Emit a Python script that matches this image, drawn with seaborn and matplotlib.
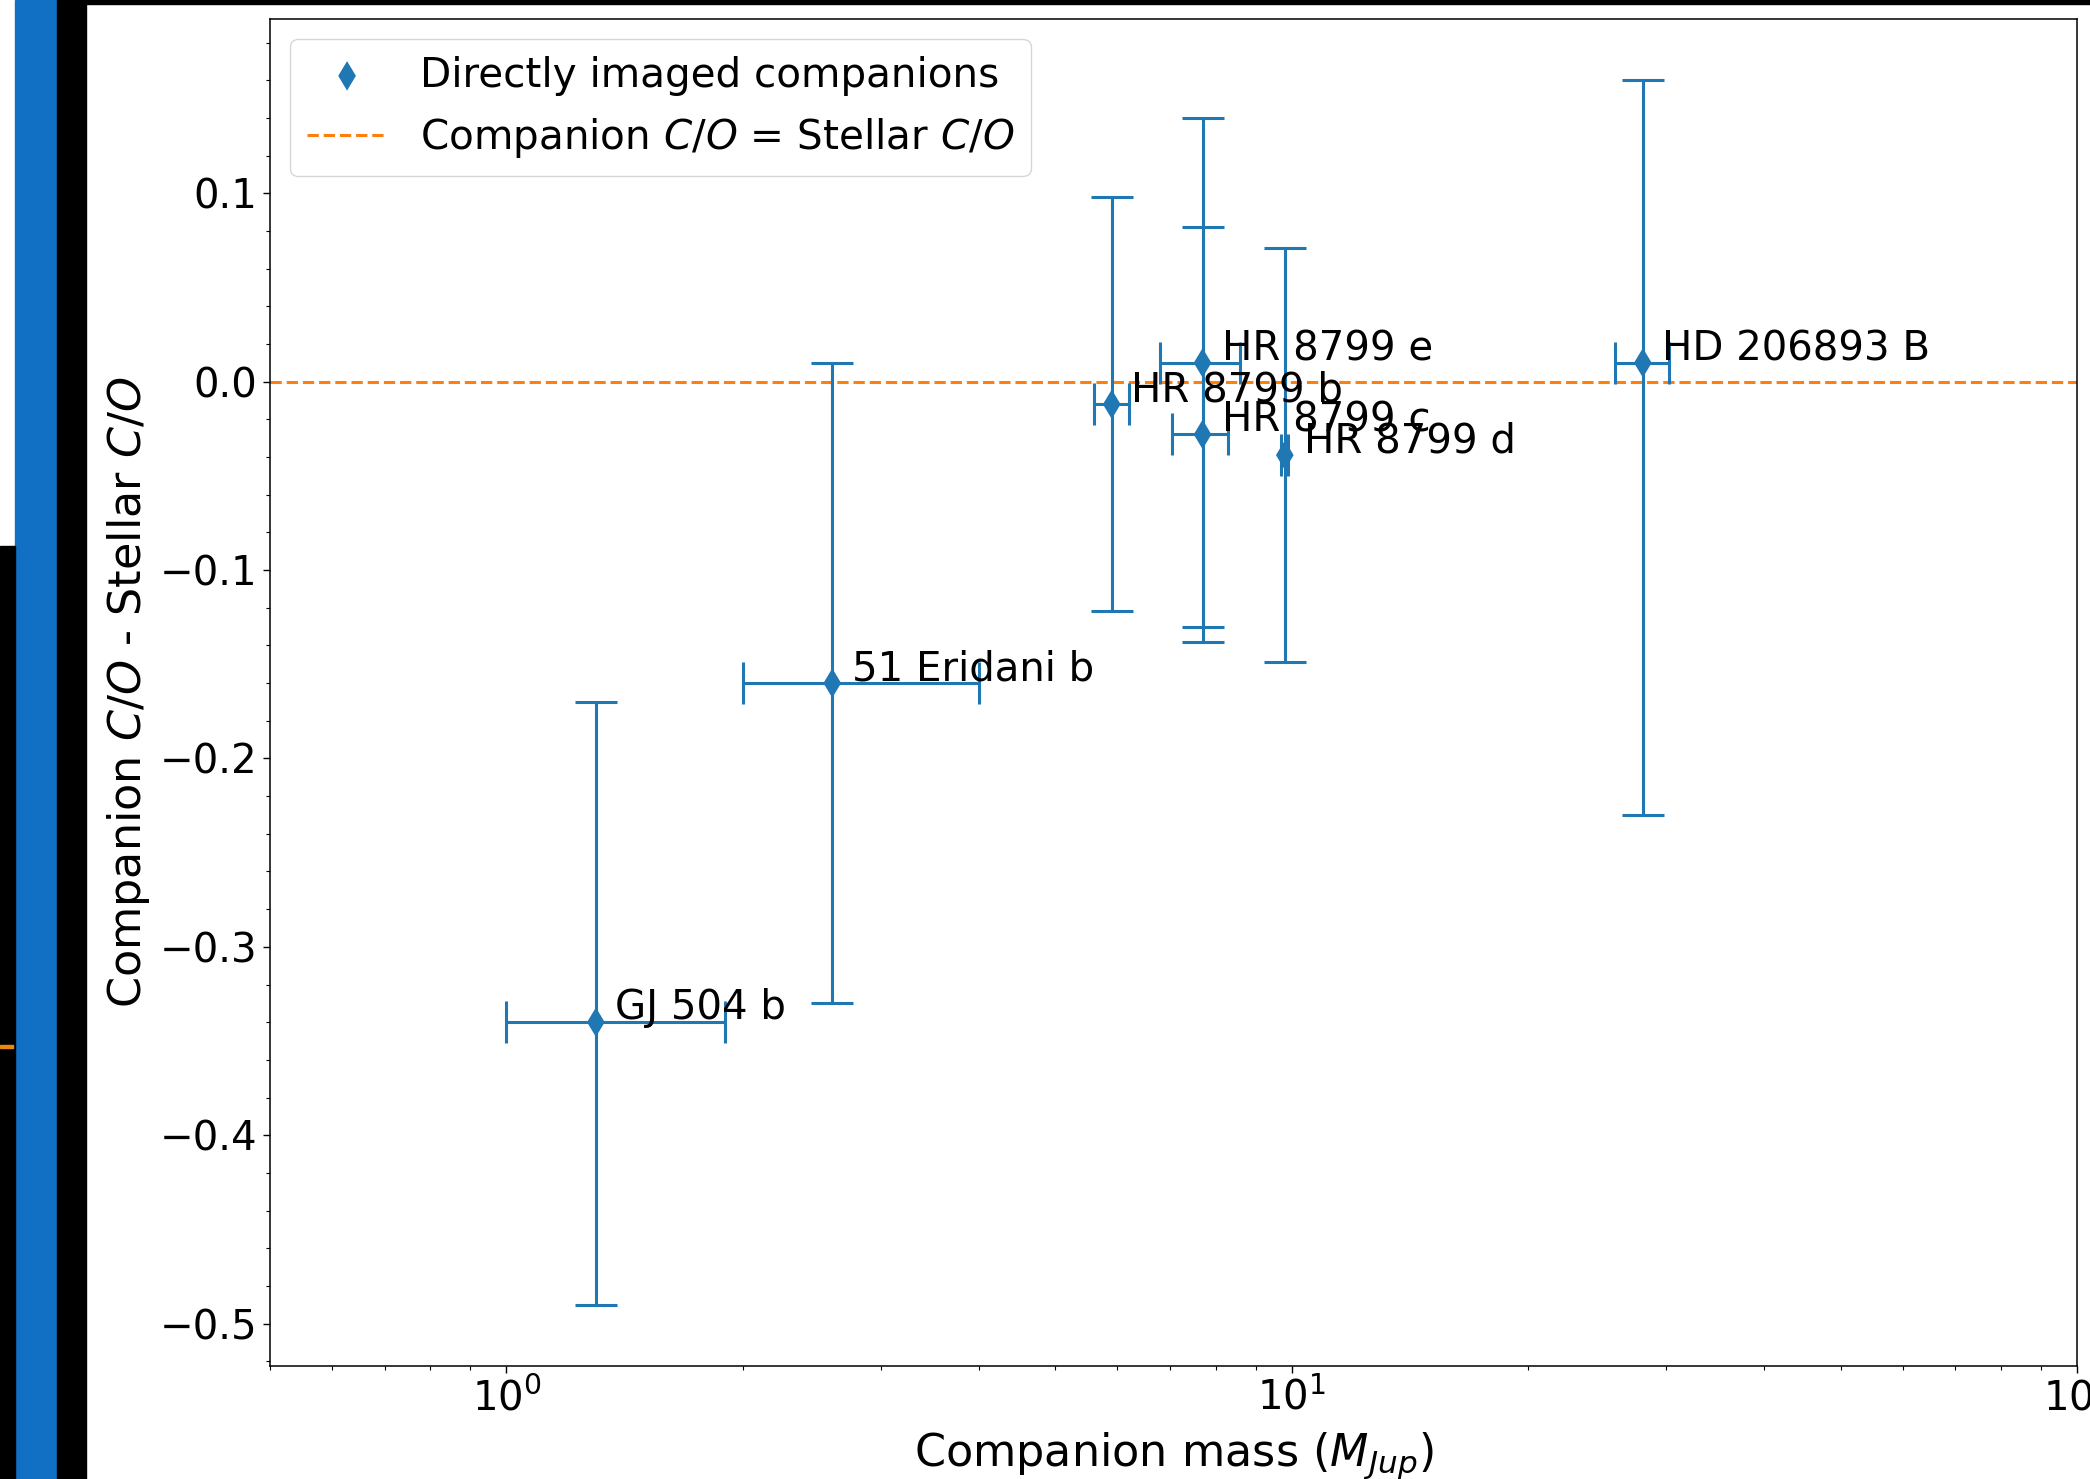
import matplotlib
matplotlib.use("Agg")
import matplotlib.pyplot as plt
import seaborn as sns
import pandas as pd
from matplotlib.patches import Rectangle

# ---- data ----
names = ["GJ 504 b", "51 Eridani b", "HR 8799 b", "HR 8799 e",
         "HR 8799 c", "HR 8799 d", "HD 206893 B"]
mass = [1.3, 2.6, 5.9, 7.7, 7.7, 9.8, 28.0]
mass_lo = [0.3, 0.6, 0.3, 0.9, 0.65, 0.1, 2.2]
mass_hi = [0.6, 1.4, 0.3, 0.9, 0.6, 0.1, 2.2]
dco = [-0.34, -0.16, -0.012, 0.01, -0.028, -0.039, 0.01]
dco_lo = [0.15, 0.17, 0.11, 0.14, 0.11, 0.11, 0.24]
dco_hi = [0.17, 0.17, 0.11, 0.13, 0.11, 0.11, 0.15]

C0 = "#1f77b4"
C1 = "#ff7f0e"

plt.rcParams["font.family"] = ["DejaVu Sans"]
plt.rcParams["font.size"] = 29
plt.rcParams["axes.linewidth"] = 1.1

df = pd.DataFrame({"name": names, "mass": mass, "dco": dco})

fig = plt.figure(figsize=(20.9, 14.79), dpi=100)
ax = fig.add_axes([0.12919, 0.07640, 0.86459, 0.91075])

# screenshot framing strips on the left / top
fig.add_artist(Rectangle((15 / 2090, 0), 42 / 2090, 1, transform=fig.transFigure,
                         color="#1170c4", zorder=0))
fig.add_artist(Rectangle((57 / 2090, 0), 29 / 2090, 1, transform=fig.transFigure,
                         color="black", zorder=0))
fig.add_artist(Rectangle((0, 0), 15 / 2090, 1 - 546 / 1479, transform=fig.transFigure,
                         color="black", zorder=0))
fig.add_artist(Rectangle((86 / 2090, 1 - 4 / 1479), 1, 4 / 1479, transform=fig.transFigure,
                         color="black", zorder=0))
fig.add_artist(Rectangle((0, 1 - 1048 / 1479), 13 / 2090, 3 / 1479, transform=fig.transFigure,
                         color="#e8890c", zorder=1))

ax.errorbar(df["mass"], df["dco"], xerr=[mass_lo, mass_hi], yerr=[dco_lo, dco_hi],
            fmt="none", ecolor=C0, elinewidth=2.2, capsize=15, capthick=2.2, zorder=2)
sns.scatterplot(data=df, x="mass", y="dco", marker="d", s=225, color=C0,
                edgecolor="none", linewidth=0, ax=ax, zorder=3,
                label="Directly imaged companions", legend=False)
hline = ax.axhline(0, color=C1, ls="--", lw=2.2,
                   label="Companion $C/O$ = Stellar $C/O$", zorder=1.5)

for n, x, y in zip(names, mass, dco):
    ax.annotate(n, (x, y), xytext=(14, 2), textcoords="offset points",
                ha="left", va="baseline", fontsize=29, zorder=4)

ax.set_xscale("log")
ax.set_xlim(0.5, 100)
ax.minorticks_on()
ax.tick_params(which="major", length=5, width=1.0, pad=4)
ax.tick_params(which="minor", length=3, width=0.8)

ax.set_xlabel("Companion mass ($M_{Jup}$)", fontsize=32, labelpad=7.5)
ax.set_ylabel("Companion $C/O$ - Stellar $C/O$", fontsize=32, labelpad=6)

handles, labels = ax.get_legend_handles_labels()
order = [labels.index("Directly imaged companions"),
         labels.index("Companion $C/O$ = Stellar $C/O$")]
ax.legend([handles[i] for i in order], [labels[i] for i in order],
          loc="upper left", fontsize=29.2)

fig.savefig("out.png", dpi=100)
